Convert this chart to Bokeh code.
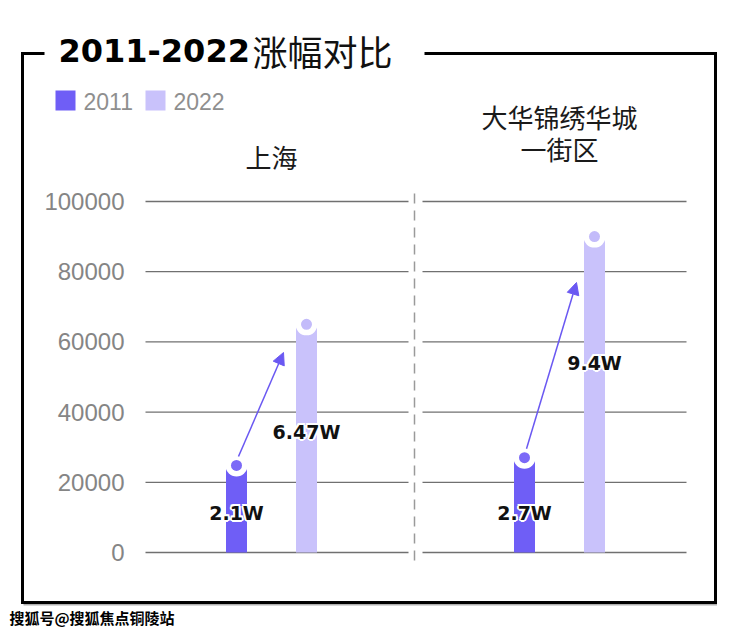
from bokeh.plotting import figure
from bokeh.models import Range1d, Arrow, NormalHead
from bokeh.core.properties import value
from bokeh.embed import file_html
from bokeh.resources import INLINE

# ---------------- data ----------------
title_num = "2011-2022"
title_cjk = "涨幅对比"
series = ["2011", "2022"]
places = ["上海", "大华锦绣华城\n一街区"]
price_2011 = [24800, 27000]
price_2022 = [65000, 90000]
label_2011 = ["2.1W", "2.7W"]
label_2022 = ["6.47W", "9.4W"]
y_ticks = [0, 20000, 40000, 60000, 80000, 100000]
watermark = "搜狐号@搜狐焦点铜陵站"

# ---------------- layout / style ----------------
W, H = 740, 634
Y0_PX = 552.0                 # page pixel of value 0
K = 351.0 / 100000.0          # page pixels per unit
C2011 = "#6f5ef6"
C2022 = "#c9c2fb"
DOT2011 = "#7b69f7"
DOT2022 = "#c3bbfa"
ARROW_C = "#6a58f2"

group_x = [271, 559]
offset = 35
panel_x = [(145, 408), (422, 686)]
x2011 = [g - offset for g in group_x]
x2022 = [g + offset for g in group_x]

p = figure(width=W, height=H, output_backend="svg", toolbar_location=None,
           x_range=Range1d(0, W),
           y_range=Range1d(-(H - Y0_PX) / K, Y0_PX / K),
           x_axis_location=None, y_axis_location=None, min_border=0)
p.extra_y_ranges = {"px": Range1d(H, 0)}
p.grid.visible = False
p.outline_line_color = None
p.background_fill_color = "white"
p.border_fill_color = "white"

# frame border (with faint shadow)
p.line(x=[23, 716.5], y=[604, 604], line_color="#b0b0b0", line_width=2, y_range_name="px")
p.line(x=[44, 22, 22, 715, 715, 424], y=[53, 53, 602, 602, 53, 53],
       line_color="black", line_width=3, line_join="miter", y_range_name="px")

# title
p.text(x=[58], y=[50], text=[title_num], text_font=value("DejaVu Sans"),
       text_font_style="bold", text_font_size="32px", text_color="black",
       text_baseline="middle", text_align="left", y_range_name="px")
p.text(x=[252], y=[50], text=[title_cjk], text_font=value("Noto Sans CJK SC"),
       text_font_size="35px", text_color="#111111",
       text_baseline="middle", text_align="left", y_range_name="px")

# legend
leg_x = [65, 155]
p.rect(x=leg_x, y=[100, 100], width=20, height=20, fill_color=[C2011, C2022],
       line_color=None, y_range_name="px")
p.text(x=[x + 18 for x in leg_x], y=[101, 101], text=series,
       text_font=value("Liberation Sans"), text_font_size="23px",
       text_color="#8f8f8f", text_baseline="middle", text_align="left",
       y_range_name="px")

# panel headers
header_bottom = [156, 148]
for gx, name, yb in zip(group_x, places, header_bottom):
    lines = name.split("\n")
    n = len(lines)
    ys = [yb - 32 * (n - 1 - i) for i in range(n)]
    p.text(x=[gx] * n, y=ys, text=lines, text_font=value("Noto Sans CJK SC"),
           text_font_size="26px", text_color="#1a1a1a", text_baseline="middle",
           text_align="center", y_range_name="px")

# grid lines + tick labels
gx0, gx1, gy = [], [], []
for t in y_ticks:
    for a, b in panel_x:
        gx0.append(a); gx1.append(b); gy.append(t)
p.segment(x0=gx0, y0=gy, x1=gx1, y1=gy, line_color="#707070", line_width=1.3)
p.text(x=[124] * len(y_ticks), y=y_ticks, text=[str(t) for t in y_ticks],
       text_font=value("Liberation Sans"), text_font_size="24px",
       text_color="#858585", text_baseline="middle", text_align="right")

# dashed divider
p.segment(x0=[414], y0=[193], x1=[414], y1=[566], line_color="#9a9a9a",
          line_width=1.5, line_dash="10 7", y_range_name="px")

# bars
p.vbar(x=x2011, top=price_2011, bottom=0, width=21, fill_color=C2011, line_color=None)
p.vbar(x=x2022, top=price_2022, bottom=0, width=21, fill_color=C2022, line_color=None)
p.scatter(x=x2011 + x2022, y=price_2011 + price_2022, marker="circle", size=22,
          fill_color="white", line_color=None)
p.scatter(x=x2011, y=price_2011, marker="circle", size=11, fill_color=DOT2011, line_color=None)
p.scatter(x=x2022, y=price_2022, marker="circle", size=11, fill_color=DOT2022, line_color=None)

# arrows (from 2011 top to near 2022 top)
arrow_tip_dx = [-23, -18]
arrow_tip_y = [352, 282]
for i in range(len(group_x)):
    y_start = Y0_PX - price_2011[i] * K - 9
    p.add_layout(Arrow(end=NormalHead(size=12, fill_color=ARROW_C, line_color=ARROW_C),
                       x_start=x2011[i] + 2, y_start=y_start,
                       x_end=x2022[i] + arrow_tip_dx[i], y_end=arrow_tip_y[i],
                       line_color=ARROW_C, line_width=1.5, y_range_name="px"))

# value labels with white halo
lab_x = x2011 + x2022
lab_y = [512, 512, 431, 362]
lab_t = label_2011 + label_2022
for dx, dy in [(-2, 0), (2, 0), (0, -2), (0, 2), (-1.5, -1.5), (1.5, 1.5), (-1.5, 1.5), (1.5, -1.5)]:
    p.text(x=lab_x, y=lab_y, text=lab_t, x_offset=dx, y_offset=dy,
           text_font=value("DejaVu Sans"), text_font_style="bold", text_font_size="19px",
           text_color="white", text_baseline="middle", text_align="center",
           y_range_name="px")
p.text(x=lab_x, y=lab_y, text=lab_t, text_font=value("DejaVu Sans"),
       text_font_style="bold", text_font_size="19px", text_color="#111111",
       text_baseline="middle", text_align="center", y_range_name="px")

# watermark
p.text(x=[9], y=[617], text=[watermark], text_font=value("Noto Sans CJK SC"),
       text_font_style="bold", text_font_size="15px", text_color="black",
       text_baseline="middle", text_align="left", y_range_name="px")

open("out.html", "w").write(file_html(p, INLINE))
